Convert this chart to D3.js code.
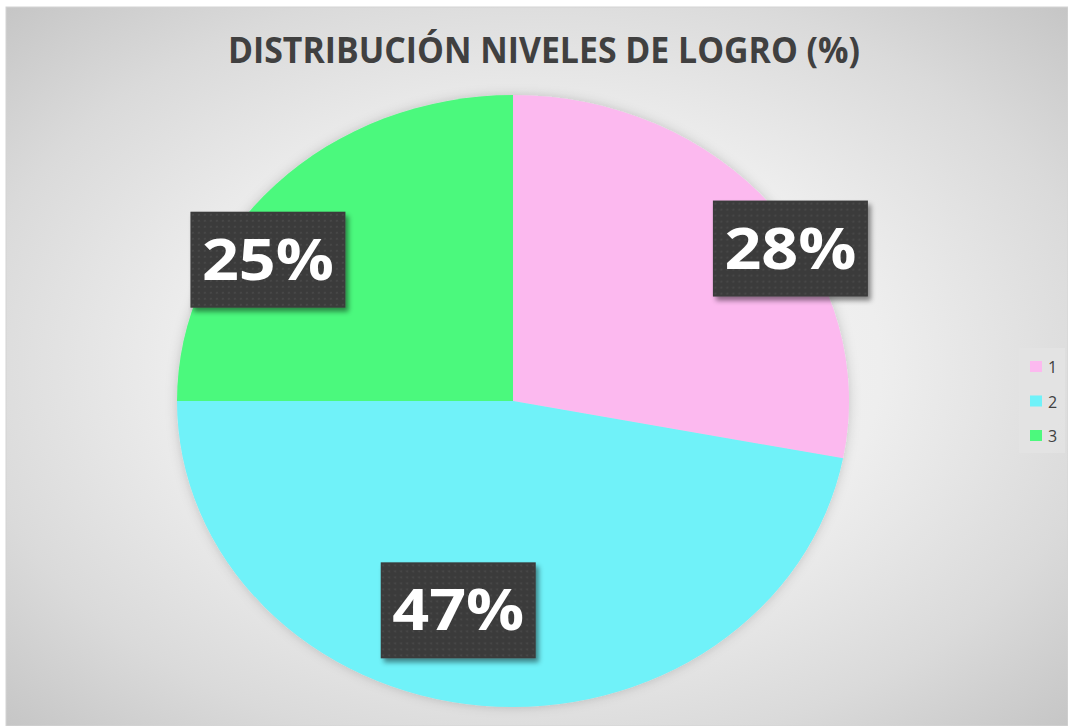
<!DOCTYPE html>
<html>
<head>
<meta charset="utf-8">
<script src="https://cdnjs.cloudflare.com/ajax/libs/d3/7.8.5/d3.min.js"></script>
<style>
  body { margin: 0; background: #ffffff; }
  svg { display: block; }
</style>
</head>
<body>
<script>
// chart data
var title = "DISTRIBUCIÓN NIVELES DE LOGRO (%)";
var categories = ["1", "2", "3"];
var values = [28, 47, 25];
var colors = ["#fcb9ef", "#6ff2f9", "#4cf97d"];

document.addEventListener("DOMContentLoaded", () => {
    drawPie();
});

function drawPie() {
    var width = 1068, height = 726;
    var cx = 513, cy = 401, r = 336, ry = 306;

    var svg = d3.select("body").append("svg")
        .attr("width", width)
        .attr("height", height);

    var defs = svg.append("defs");

    // background gradient
    var bg = defs.append("radialGradient")
        .attr("id", "bg")
        .attr("cx", "0.5").attr("cy", "0.5").attr("r", "0.72");
    bg.append("stop").attr("offset", "0").attr("stop-color", "#f8f8f8");
    bg.append("stop").attr("offset", "0.45").attr("stop-color", "#eeeeee");
    bg.append("stop").attr("offset", "0.75").attr("stop-color", "#dadada");
    bg.append("stop").attr("offset", "1").attr("stop-color", "#c4c4c4");

    // dotted texture for the label boxes
    var pat = defs.append("pattern")
        .attr("id", "dots")
        .attr("patternUnits", "userSpaceOnUse")
        .attr("width", 6).attr("height", 6);
    pat.append("rect").attr("width", 6).attr("height", 6).attr("fill", "#3b3b3b");
    pat.append("circle").attr("cx", 3).attr("cy", 3).attr("r", 1.1).attr("fill", "#4a4a4a");

    var sh = defs.append("filter").attr("id", "shadow")
        .attr("x", "-20%").attr("y", "-20%").attr("width", "140%").attr("height", "140%");
    sh.append("feDropShadow").attr("dx", 3).attr("dy", 4).attr("stdDeviation", 2.5)
        .attr("flood-color", "#000").attr("flood-opacity", 0.45);

    var pieShadow = defs.append("filter").attr("id", "pieShadow")
        .attr("x", "-10%").attr("y", "-10%").attr("width", "120%").attr("height", "120%");
    pieShadow.append("feDropShadow").attr("dx", 0).attr("dy", 0).attr("stdDeviation", 6)
        .attr("flood-color", "#000").attr("flood-opacity", 0.18);

    svg.append("rect")
        .attr("x", 6).attr("y", 7)
        .attr("width", width - 6).attr("height", height - 7)
        .attr("fill", "url(#bg)")
        .attr("stroke", "#d4d4d4").attr("stroke-width", 1);

    // title
    svg.append("text")
        .attr("x", 544).attr("y", 63)
        .attr("text-anchor", "middle")
        .attr("font-family", "'Open Sans', sans-serif")
        .attr("font-weight", "bold")
        .attr("font-size", 35)
        .attr("textLength", 632)
        .attr("lengthAdjust", "spacingAndGlyphs")
        .attr("fill", "#404040")
        .text(title);

    // pie (slightly squashed vertically like the original)
    var pie = d3.pie().sort(null).value(function(d) { return d; });
    var arc = d3.arc().innerRadius(0).outerRadius(r);
    var arcs = pie(values);

    var g = svg.append("g")
        .attr("transform", "translate(" + cx + "," + cy + ") scale(1," + (ry / r) + ")");

    g.append("g").attr("filter", "url(#pieShadow)")
        .selectAll("path")
        .data(arcs)
        .enter().append("path")
        .attr("d", arc)
        .attr("fill", function(d, i) { return colors[i]; });

    // data labels (placed by hand in the original, relative to slice centroid)
    var labelArc = d3.arc().innerRadius(r * 0.72).outerRadius(r * 0.72);
    var nudge = [[91, -12], [-32, -10], [-74, 14.5]];
    var boxW = 155, boxH = 96;

    var labels = svg.append("g").selectAll("g")
        .data(arcs)
        .enter().append("g")
        .attr("transform", function(d, i) {
            var c = labelArc.centroid(d);
            var x = cx + c[0] + nudge[i][0];
            var y = cy + c[1] * ry / r + nudge[i][1];
            return "translate(" + x + "," + y + ")";
        });

    labels.append("rect")
        .attr("x", -boxW / 2).attr("y", -boxH / 2)
        .attr("width", boxW).attr("height", boxH)
        .attr("fill", "url(#dots)")
        .attr("filter", "url(#shadow)");

    labels.append("text")
        .attr("y", 20)
        .attr("text-anchor", "middle")
        .attr("font-family", "'Open Sans', sans-serif")
        .attr("font-weight", "bold")
        .attr("font-size", 57)
        .attr("textLength", 132)
        .attr("lengthAdjust", "spacingAndGlyphs")
        .attr("fill", "#ffffff")
        .text(function(d) { return d.data + "%"; });

    // legend
    var legend = svg.append("g").attr("transform", "translate(1019,348)");
    legend.append("rect")
        .attr("width", 46).attr("height", 105)
        .attr("fill", "#e3e3e3").attr("opacity", 0.8);

    var y = d3.scalePoint().domain(categories).range([19, 88]);
    var items = legend.selectAll("g.item")
        .data(categories)
        .enter().append("g")
        .attr("class", "item")
        .attr("transform", function(d) { return "translate(0," + y(d) + ")"; });
    items.append("rect")
        .attr("x", 11).attr("y", -6)
        .attr("width", 12).attr("height", 11)
        .attr("fill", function(d, i) { return colors[i]; });
    items.append("text")
        .attr("x", 29).attr("y", 6)
        .attr("font-family", "'Open Sans', sans-serif")
        .attr("font-size", 16)
        .attr("fill", "#404040")
        .text(function(d) { return d; });
}
</script>
</body>
</html>
